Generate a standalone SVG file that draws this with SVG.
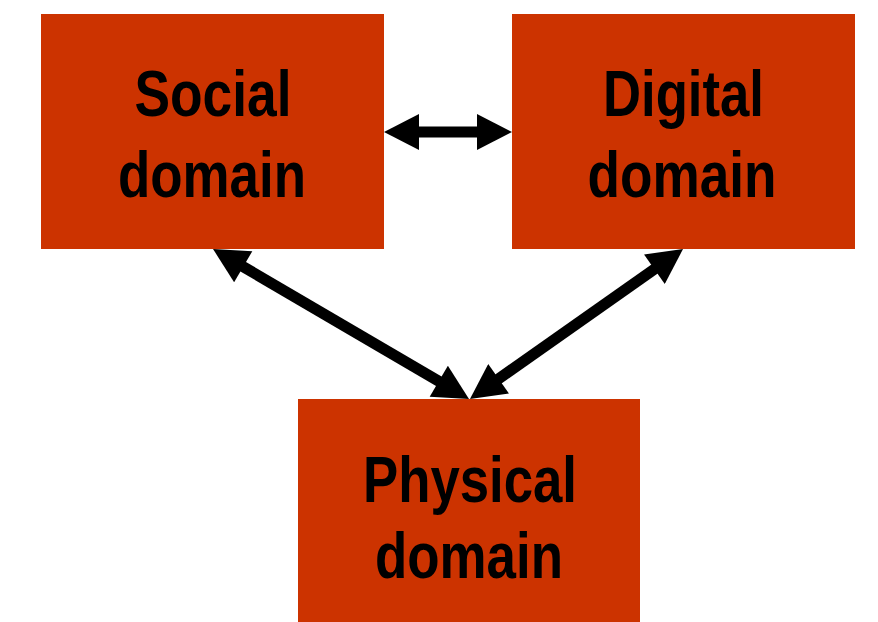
<svg xmlns="http://www.w3.org/2000/svg" width="878" height="622" viewBox="0 0 878 622">
  <style>
    .box { fill: #CC3300; }
    .lbl { font-family: "Liberation Sans", Arial, Helvetica, sans-serif; font-weight: bold; font-size: 65px; fill: #000; text-anchor: middle; }
    .conn { stroke: #000; stroke-width: 11; fill: none; marker-start: url(#ah); marker-end: url(#ah); }
  </style>
  <defs>
    <marker id="ah" markerUnits="userSpaceOnUse" markerWidth="36" markerHeight="36" viewBox="0 0 35 36" refX="5" refY="18" orient="auto-start-reverse">
      <path d="M0,0 L35,18 L0,36 z" fill="#000"/>
    </marker>
  </defs>
  <rect width="878" height="622" fill="#fff"/>
  <g id="social">
    <rect class="box" x="41" y="14" width="343" height="235"/>
    <text class="lbl" x="213" y="116" textLength="157" lengthAdjust="spacingAndGlyphs">Social</text>
    <text class="lbl" x="212" y="197" textLength="188" lengthAdjust="spacingAndGlyphs">domain</text>
  </g>
  <g id="digital">
    <rect class="box" x="512" y="14" width="343" height="235"/>
    <text class="lbl" x="683.5" y="116" textLength="161" lengthAdjust="spacingAndGlyphs">Digital</text>
    <text class="lbl" x="682" y="197" textLength="189" lengthAdjust="spacingAndGlyphs">domain</text>
  </g>
  <g id="physical">
    <rect class="box" x="298" y="399" width="342" height="223"/>
    <text class="lbl" x="470" y="502" textLength="214" lengthAdjust="spacingAndGlyphs">Physical</text>
    <text class="lbl" x="469" y="578" textLength="188" lengthAdjust="spacingAndGlyphs">domain</text>
  </g>
  <g id="connectors">
    <line class="conn" x1="414" y1="132" x2="482" y2="132"/>
    <line class="conn" x1="238.9" y1="264.2" x2="443.1" y2="383.8"/>
    <line class="conn" x1="658.5" y1="266.3" x2="494.5" y2="381.7"/>
  </g>
</svg>
